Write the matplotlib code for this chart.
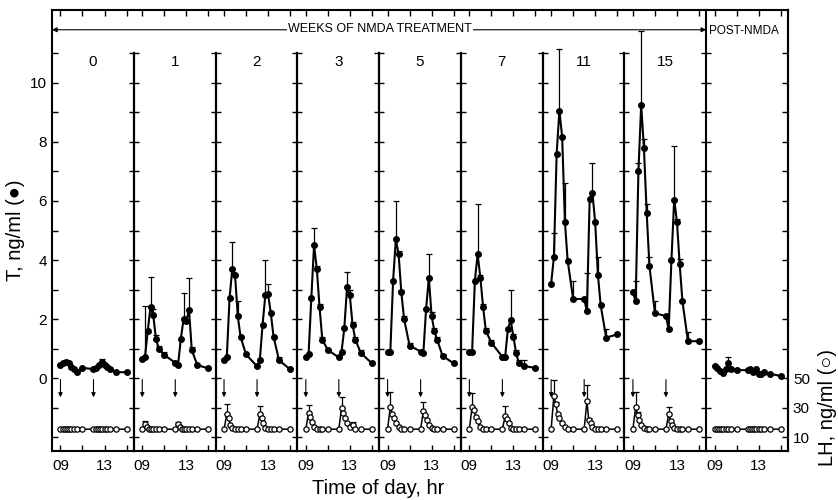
import matplotlib
matplotlib.use('Agg')
import matplotlib.pyplot as plt
import numpy as np
from matplotlib.patches import ConnectionPatch

plt.rcParams['font.family'] = ['Liberation Sans', 'DejaVu Sans']

# panel titles
weeks = ['0', '1', '2', '3', '5', '7', '11', '15', 'POST']

# sampling times (hr)
t_T = [9.0, 9.25, 9.5, 9.75, 10.0, 10.25, 10.5, 11.0, 12.0, 12.25, 12.5, 12.75, 13.0, 13.25, 13.5, 14.0, 15.0]
t_LH = [9.0, 9.25, 9.42, 9.58, 9.75, 10.0, 10.25, 10.5, 11.0, 12.0, 12.25, 12.42, 12.58, 12.75, 13.0, 13.25, 13.5, 14.0, 15.0]
inject = [9.0, 12.0]

# testosterone, ng/ml (mean and upper SE)
T_w0 = [0.45, 0.5, 0.55, 0.5, 0.38, 0.3, 0.22, 0.35, 0.3, 0.35, 0.45, 0.55, 0.45, 0.38, 0.3, 0.2, 0.2]
T_w1 = [0.63, 0.72, 1.6, 2.42, 2.13, 1.31, 1.0, 0.78, 0.52, 0.44, 1.31, 1.99, 1.94, 2.3, 0.95, 0.44, 0.33]
T_w2 = [0.6, 0.7, 2.7, 3.7, 3.5, 2.1, 1.4, 0.8, 0.4, 0.6, 1.8, 2.8, 2.85, 2.2, 1.4, 0.6, 0.3]
T_w3 = [0.7, 0.8, 2.7, 4.5, 3.7, 2.4, 1.3, 0.95, 0.7, 0.9, 1.7, 3.1, 2.8, 1.8, 1.3, 0.85, 0.5]
T_w5 = [0.9, 0.9, 3.3, 4.7, 4.2, 2.9, 2.0, 1.1, 0.9, 0.85, 2.35, 3.4, 2.1, 1.6, 1.3, 0.75, 0.5]
T_w7 = [0.9, 0.9, 3.3, 4.2, 3.4, 2.4, 1.6, 1.2, 0.72, 0.72, 1.65, 1.97, 1.4, 0.85, 0.5, 0.4, 0.35]
T_w11 = [3.2, 4.1, 7.6, 9.06, 8.18, 5.3, 3.98, 2.68, 2.68, 2.27, 6.07, 6.28, 5.28, 3.5, 2.47, 1.37, 1.48]
T_w15 = [2.9, 2.6, 7.0, 9.25, 7.8, 5.6, 3.8, 2.2, 2.1, 1.65, 4.0, 6.05, 5.3, 3.85, 2.6, 1.25, 1.25]
T_post = [0.4, 0.35, 0.25, 0.18, 0.3, 0.5, 0.3, 0.27, 0.27, 0.3, 0.2, 0.3, 0.13, 0.15, 0.2, 0.15, 0.07]

Te_w0 = [0, 0, 0.05, 0, 0, 0, 0, 0, 0, 0, 0, 0.1, 0, 0, 0, 0, 0]
Te_w1 = [0, 1.73, 0, 1.0, 0.2, 0.15, 0.1, 0.1, 0, 0, 0, 0.9, 0, 1.1, 0.1, 0.05, 0]
Te_w2 = [0, 0, 0, 0.9, 0, 0.5, 0, 0, 0, 0, 0, 1.2, 0.35, 0, 0, 0.1, 0]
Te_w3 = [0, 0, 0, 0.6, 0.1, 0.1, 0.1, 0.05, 0, 0, 0, 0.5, 0.2, 0.1, 0.1, 0.1, 0]
Te_w5 = [0, 0, 0, 1.3, 0.1, 0.1, 0.1, 0.1, 0, 0, 0, 0.8, 0.15, 0.1, 0.1, 0.05, 0]
Te_w7 = [0, 0, 0, 1.7, 0.1, 0.1, 0.1, 0.1, 0, 0, 0, 1.0, 0.1, 0.1, 0.1, 0.2, 0]
Te_w11 = [0, 0.8, 0, 2.1, 0, 1.3, 0, 0.6, 0, 1.3, 0, 1.0, 0, 0.6, 0, 0.3, 0]
Te_w15 = [0, 0.7, 0.3, 2.5, 0.3, 0.3, 0.3, 0.4, 0, 0, 0, 1.8, 0.1, 0.2, 0, 0.3, 0]
Te_post = [0, 0, 0, 0, 0, 0.2, 0, 0, 0, 0, 0, 0, 0, 0, 0, 0, 0]

# LH, ng/ml (mean and upper SE)
LH_w0 = [15.4, 15.5, 15.4, 15.4, 15.5, 15.4, 15.4, 15.4, 15.4, 15.4, 15.5, 15.4, 15.4, 15.4, 15.5, 15.4, 15.4, 15.4, 15.4]
LH_w1 = [15.4, 19.2, 17.0, 15.8, 15.4, 15.4, 15.4, 15.4, 15.4, 15.4, 19.0, 17.0, 15.8, 15.4, 15.4, 15.4, 15.4, 15.4, 15.4]
LH_w2 = [15.4, 25.4, 22.7, 18.1, 16.4, 15.4, 15.4, 15.4, 15.4, 15.4, 25.4, 22.7, 19.3, 16.4, 15.4, 15.4, 15.4, 15.4, 15.4]
LH_w3 = [15.4, 26.5, 23.8, 20.4, 17.0, 15.4, 15.4, 15.4, 15.4, 15.4, 29.9, 26.5, 23.0, 19.7, 17.0, 18.5, 15.4, 15.4, 15.4]
LH_w5 = [15.4, 30.5, 26.0, 22.7, 19.7, 17.0, 15.4, 15.4, 15.4, 15.4, 27.6, 24.9, 21.5, 18.1, 16.4, 15.4, 15.4, 15.4, 15.4]
LH_w7 = [15.4, 30.5, 28.3, 23.8, 21.0, 17.0, 15.4, 15.4, 15.4, 15.4, 24.2, 22.2, 19.3, 16.5, 15.4, 15.4, 15.4, 15.4, 15.4]
LH_w11 = [15.4, 38.0, 32.4, 26.0, 22.7, 19.3, 17.0, 15.8, 15.4, 15.4, 34.4, 21.5, 19.3, 17.0, 15.8, 15.4, 15.4, 15.4, 15.4]
LH_w15 = [15.4, 30.5, 25.0, 21.5, 18.0, 16.4, 15.4, 15.4, 15.4, 15.4, 25.4, 21.0, 18.1, 16.4, 15.4, 15.4, 15.4, 15.4, 15.4]
LH_post = [15.4, 15.4, 15.5, 15.4, 15.4, 15.4, 15.5, 15.4, 15.4, 15.4, 15.4, 15.5, 15.4, 15.4, 15.4, 15.5, 15.4, 15.4, 15.4]

LHe_w0 = [0] * 19
LHe_w1 = [0, 1.5, 0, 0, 0, 0, 0, 0, 0, 0, 1.5, 0, 0, 0, 0, 0, 0, 0, 0]
LHe_w2 = [0, 7.0, 0, 0, 0, 0, 0, 0, 0, 0, 5.6, 0, 0, 0, 0, 0, 0, 0, 0]
LHe_w3 = [0, 5.2, 0, 0, 0, 0, 0, 0, 0, 0, 7.4, 0, 0, 0, 0, 1.5, 0, 0, 0]
LHe_w5 = [0, 10.0, 0, 0, 0, 0, 0, 0, 0, 0, 6.4, 0, 0, 0, 0, 0, 0, 0, 0]
LHe_w7 = [0, 9.5, 0, 0, 0, 0, 0, 0, 0, 0, 6.8, 0, 0, 0, 0, 0, 0, 0, 0]
LHe_w11 = [0, 10.6, 1.5, 0, 0, 0, 0, 0, 0, 0, 11.0, 1.5, 0, 0, 0, 0, 0, 0, 0]
LHe_w15 = [0, 9.8, 2.0, 0, 0, 0, 0, 0, 0, 0, 5.0, 0, 0, 0, 0, 0, 0, 0, 0]
LHe_post = [0] * 19

T_all = [T_w0, T_w1, T_w2, T_w3, T_w5, T_w7, T_w11, T_w15, T_post]
Te_all = [Te_w0, Te_w1, Te_w2, Te_w3, Te_w5, Te_w7, Te_w11, Te_w15, Te_post]
LH_all = [LH_w0, LH_w1, LH_w2, LH_w3, LH_w5, LH_w7, LH_w11, LH_w15, LH_post]
LHe_all = [LHe_w0, LHe_w1, LHe_w2, LHe_w3, LHe_w5, LHe_w7, LHe_w11, LHe_w15, LHe_post]


# LH is drawn on the T scale: 50 ng/ml at T=0, 20 ng/ml per T unit
def lh2t(v):
    return (np.asarray(v, dtype=float) - 50) / 20.0


def t2lh(v):
    return np.asarray(v, dtype=float) * 20 + 50


x0, x1 = 8.23, 15.66
ylo, yhi = -2.47, 12.47

fig = plt.figure(figsize=(8.38, 5.0), dpi=100)
gs = fig.add_gridspec(1, 9, left=52/838, right=788/838, bottom=49/500, top=490/500, wspace=0)
axes = [fig.add_subplot(gs[0, i]) for i in range(9)]

for i, ax in enumerate(axes):
    ax.patch.set_visible(False)
    ax.set_xlim(x0, x1)
    ax.set_ylim(ylo, yhi)
    for s in ax.spines.values():
        s.set_linewidth(1.5)
    ax.spines['left'].set_visible(i in (0, 8))
    ax.spines['right'].set_visible(i == 8)

    ax.set_xticks([9, 11, 13, 15])
    ax.set_xticklabels(['09', '', '13', ''])
    ax.tick_params(axis='x', direction='in', top=True, bottom=True, length=4, width=1, labelsize=11, pad=6)

    ax.set_yticks(range(-2, 12))
    if i == 0:
        ax.set_yticklabels([str(v) if v in (0, 2, 4, 6, 8, 10) else '' for v in range(-2, 12)])
        ax.tick_params(axis='y', direction='in', length=4, width=1, labelsize=11)
        ax.set_ylabel('T, ng/ml (●)', fontsize=14.5, labelpad=4)
    else:
        ax.set_yticklabels([])
        ax.tick_params(axis='y', direction='inout', length=7, width=1, right=False)
        if i < 8:
            ax.axvline(x0, ymin=0, ymax=(11 - ylo) / (yhi - ylo), color='k', lw=1.6, clip_on=False)

    T = np.array(T_all[i])
    Te = np.array(Te_all[i])
    LH = np.array(LH_all[i])
    LHe = np.array(LHe_all[i])
    tT = np.array(t_T)
    tL = np.array(t_LH)

    m = Te > 0
    ax.errorbar(tT[m], T[m], yerr=[np.zeros(m.sum()), Te[m]], fmt='none', ecolor='k',
                elinewidth=0.9, capsize=2.2, capthick=0.9, clip_on=False)
    ax.plot(tT, T, '-o', color='k', ms=4.0, lw=1.5, mfc='k', zorder=3)

    m = LHe > 0
    ax.errorbar(tL[m], lh2t(LH[m]), yerr=[np.zeros(m.sum()), LHe[m] / 20.0], fmt='none', ecolor='k',
                elinewidth=0.9, capsize=2.2, capthick=0.9)
    ax.plot(tL, lh2t(LH), '-o', color='k', ms=3.8, lw=1.1, mfc='white', mew=0.9, zorder=3)

    if i < 8:
        for ta in inject:
            ax.annotate('', xy=(ta, -0.65), xytext=(ta, -0.05),
                        arrowprops=dict(arrowstyle='-|>', color='k', lw=0.8, mutation_scale=6,
                                        shrinkA=0, shrinkB=0))
        ax.text((x0 + x1) / 2, 10.7, weeks[i], ha='center', va='center', fontsize=11)

# right LH axis on the post-treatment panel
axp = axes[8]
sec = axp.secondary_yaxis('right', functions=(t2lh, lh2t))
sec.set_yticks(t2lh(np.arange(-2, 12)))
sec.set_yticklabels(['10', '30', '50'] + [''] * 11)
sec.tick_params(direction='in', length=4, width=1, labelsize=11)
sec.spines['right'].set_linewidth(1.5)
axp.text(x0 + 0.25, 11.75, 'POST-NMDA', ha='left', va='center', fontsize=8.5)

# top double arrow spanning the treatment weeks
con = ConnectionPatch(xyA=(x0, 11.8), coordsA=axes[0].transData,
                      xyB=(x0, 11.8), coordsB=axes[8].transData,
                      arrowstyle='<|-|>', color='k', lw=0.8, mutation_scale=7, shrinkA=0, shrinkB=0)
fig.add_artist(con)
fig.text(380/838, 1 - 29/500, 'WEEKS OF NMDA TREATMENT', ha='center', va='center', fontsize=9,
         bbox=dict(fc='white', ec='none', pad=1), zorder=5)

fig.text(378/838, 12/500, 'Time of day, hr', ha='center', va='center', fontsize=14.5)
fig.text(827/838, 1 - 408/500, 'LH, ng/ml (○)', ha='center', va='center', rotation=90, fontsize=14.5)

fig.savefig('out.png', dpi=100)
